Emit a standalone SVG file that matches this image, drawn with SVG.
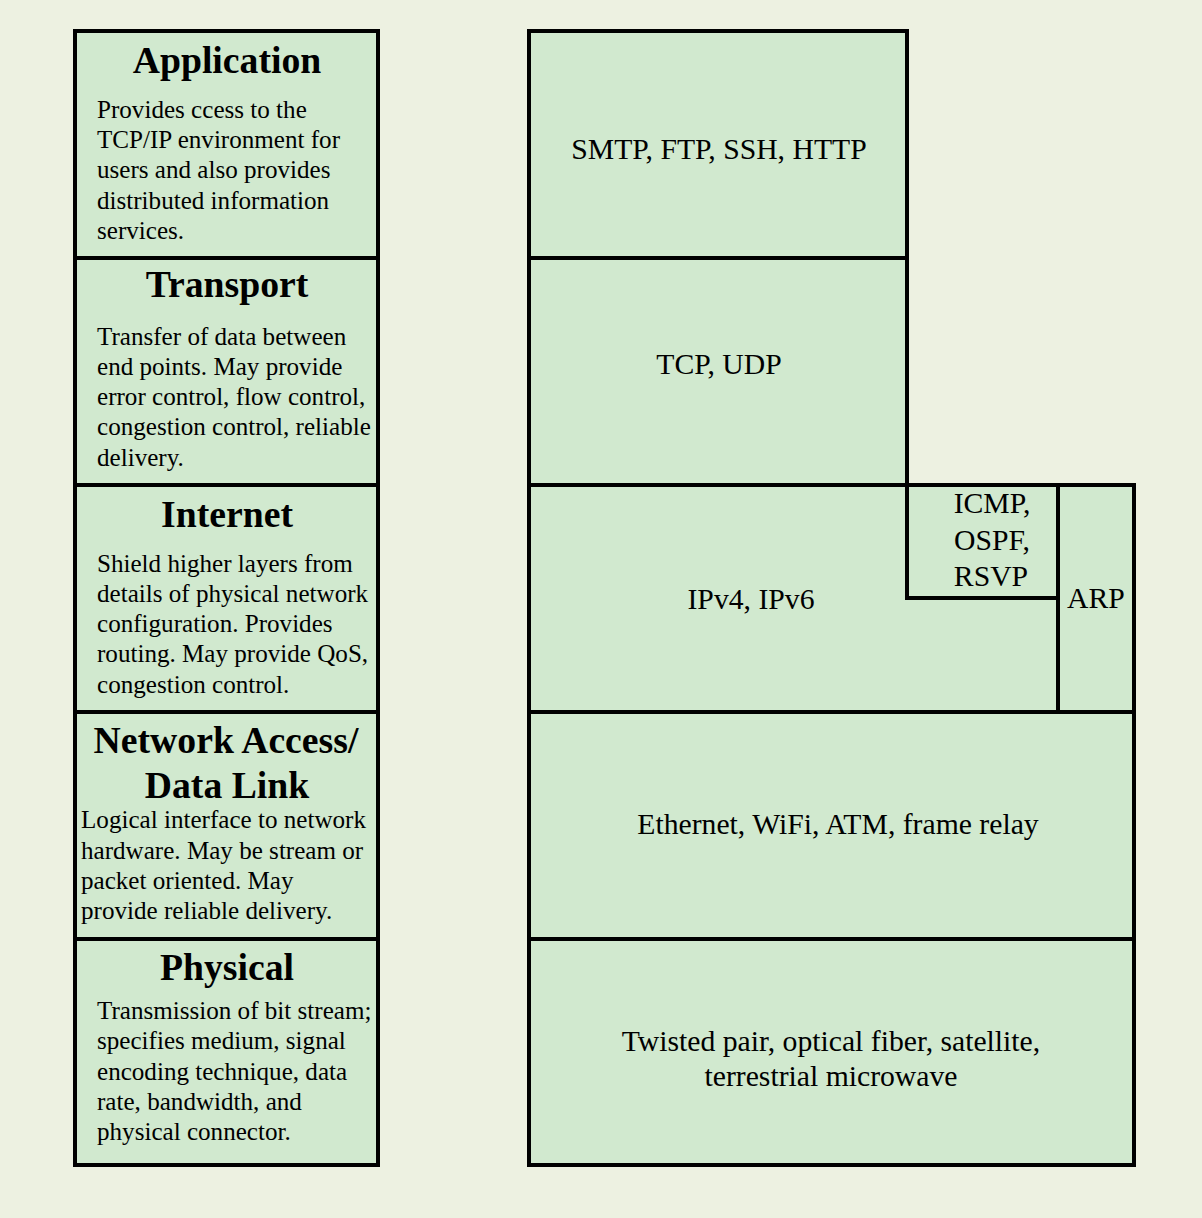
<svg xmlns="http://www.w3.org/2000/svg" width="1202" height="1218" viewBox="0 0 1202 1218">
<style>
.bg{fill:#edf1e1}
.box{fill:#d1e9cf;stroke:#000;stroke-width:4}
text{font-family:"Liberation Serif","Times New Roman",serif;fill:#000}
.t{font-size:37.7px;font-weight:bold;text-anchor:middle}
.b{font-size:25.1px}
.r{font-size:29.7px;text-anchor:middle}
</style>
<rect class="bg" x="0" y="0" width="1202" height="1218"/>
<g id="application">
<rect class="box" x="75" y="31" width="303" height="227"/>
<text class="t" x="227" y="73">Application</text>
<text class="b" x="97" y="118">Provides ccess to the</text>
<text class="b" x="97" y="148">TCP/IP environment for</text>
<text class="b" x="97" y="178">users and also provides</text>
<text class="b" x="97" y="209">distributed information</text>
<text class="b" x="97" y="239">services.</text>
</g>
<g id="transport">
<rect class="box" x="75" y="258" width="303" height="227"/>
<text class="t" x="227" y="297">Transport</text>
<text class="b" x="97" y="345">Transfer of data between</text>
<text class="b" x="97" y="375">end points. May provide</text>
<text class="b" x="97" y="405">error control, flow control,</text>
<text class="b" x="97" y="435">congestion control, reliable</text>
<text class="b" x="97" y="466">delivery.</text>
</g>
<g id="internet">
<rect class="box" x="75" y="485" width="303" height="227"/>
<text class="t" x="227" y="527">Internet</text>
<text class="b" x="97" y="572">Shield higher layers from</text>
<text class="b" x="97" y="602">details of physical network</text>
<text class="b" x="97" y="632">configuration. Provides</text>
<text class="b" x="97" y="662">routing. May provide QoS,</text>
<text class="b" x="97" y="693">congestion control.</text>
</g>
<g id="network-access">
<rect class="box" x="75" y="712" width="303" height="227"/>
<text class="t" x="226" y="753">Network Access/</text>
<text class="t" x="227" y="798">Data Link</text>
<text class="b" x="81" y="828">Logical interface to network</text>
<text class="b" x="81" y="859">hardware. May be stream or</text>
<text class="b" x="81" y="889">packet oriented. May</text>
<text class="b" x="81" y="919">provide reliable delivery.</text>
</g>
<g id="physical">
<rect class="box" x="75" y="939" width="303" height="226"/>
<text class="t" x="227" y="980">Physical</text>
<text class="b" x="97" y="1019">Transmission of bit stream;</text>
<text class="b" x="97" y="1049">specifies medium, signal</text>
<text class="b" x="97" y="1080">encoding technique, data</text>
<text class="b" x="97" y="1110">rate, bandwidth, and</text>
<text class="b" x="97" y="1140">physical connector.</text>
</g>
<g id="app-protocols">
<rect class="box" x="529" y="31" width="378" height="227"/>
<text class="r" x="719" y="159">SMTP, FTP, SSH, HTTP</text>
</g>
<g id="transport-protocols">
<rect class="box" x="529" y="258" width="378" height="227"/>
<text class="r" x="719" y="374">TCP, UDP</text>
</g>
<g id="ip-protocols">
<rect class="box" x="529" y="485" width="529" height="227"/>
<text class="r" x="751" y="609">IPv4, IPv6</text>
</g>
<g id="icmp">
<rect class="box" x="907" y="485" width="151" height="113"/>
<text class="r" x="992" y="513">ICMP,</text>
<text class="r" x="992" y="550">OSPF,</text>
<text class="r" x="991" y="586">RSVP</text>
</g>
<g id="arp">
<rect class="box" x="1058" y="485" width="76" height="227"/>
<text class="r" x="1096" y="608">ARP</text>
</g>
<g id="link-protocols">
<rect class="box" x="529" y="712" width="605" height="227"/>
<text class="r" x="838" y="834">Ethernet, WiFi, ATM, frame relay</text>
</g>
<g id="physical-media">
<rect class="box" x="529" y="939" width="605" height="226"/>
<text class="r" x="831" y="1051">Twisted pair, optical fiber, satellite,</text>
<text class="r" x="831" y="1086">terrestrial microwave</text>
</g>
<g id="connectors"></g>
</svg>
